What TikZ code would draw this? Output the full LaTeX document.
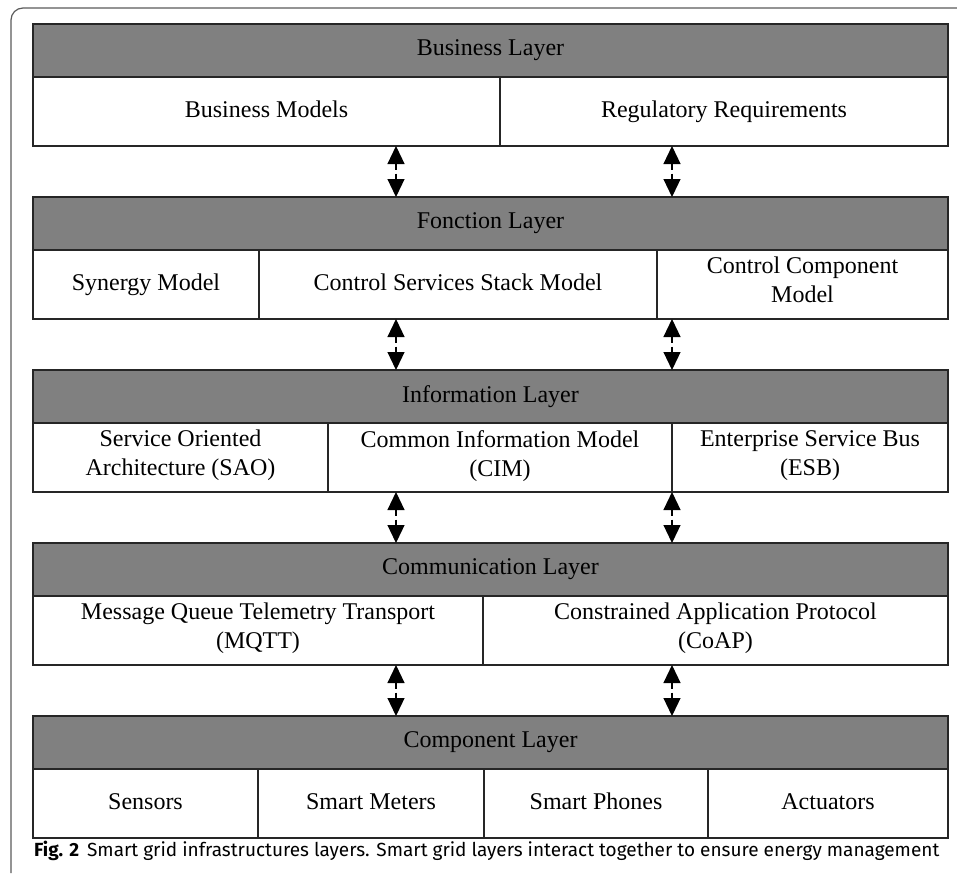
\documentclass[tikz,border=0pt]{standalone}
\usepackage{fontspec}
\setmainfont{Liberation Serif}
\newfontfamily\capfont{Fira Sans}
\usepackage{tikz}
\usetikzlibrary{arrows.meta,positioning}
\definecolor{hdrgray}{RGB}{128,128,128}
\definecolor{framegray}{RGB}{90,90,90}
\tikzset{
  every node/.append style={font=\fontsize{24}{29}\selectfont},
}

\begin{document}
\begin{tikzpicture}[
  x=1pt, y=-1pt,
  head/.style={draw=black!85, fill=hdrgray, line width=1.2pt, minimum width=915pt, minimum height=53pt, inner sep=0pt, outer sep=0pt, anchor=north west},
  cell/.style={draw=black!85, fill=white, line width=1.2pt, minimum height=69pt, inner sep=0pt, outer sep=0pt, align=center, anchor=north west,
    execute at begin node={\strut}, execute at end node={\strut}},
  link/.style={{Triangle[length=18pt,width=17pt]}-{Triangle[length=18pt,width=17pt]}, line width=1.2pt, dash pattern=on 6pt off 4pt}
]
\useasboundingbox (0,0) rectangle (957,873);

% Outer frame
\draw[framegray, line width=1.2pt, rounded corners=12pt] (11,873) -- (11,8) -- (957,8);

% Layer 1: Business
\node[head] (bizh) at (33,24) {Business Layer};
\node[cell, minimum width=467pt] (bizm) at (bizh.south west) {Business Models};
\node[cell, minimum width=448pt] (bizr) at (bizm.north east) {Regulatory Requirements};

% Layer 2: Fonction
\node[head, below=51pt of bizm.south west, anchor=north west] (fnh) {Fonction Layer};
\node[cell, minimum width=226pt] (fnsyn) at (fnh.south west) {Synergy Model};
\node[cell, minimum width=398pt] (fnstack) at (fnsyn.north east) {Control Services Stack Model};
\node[cell, minimum width=291pt] (fncomp) at (fnstack.north east) {Control Component\\Model};

% Layer 3: Information
\node[head, below=51pt of fnsyn.south west, anchor=north west] (infh) {Information Layer};
\node[cell, minimum width=295pt] (infsoa) at (infh.south west) {Service Oriented\\Architecture (SAO)};
\node[cell, minimum width=344pt] (infcim) at (infsoa.north east) {Common Information Model\\(CIM)};
\node[cell, minimum width=276pt] (infesb) at (infcim.north east) {Enterprise Service Bus\\(ESB)};

% Layer 4: Communication
\node[head, below=51pt of infsoa.south west, anchor=north west] (comh) {Communication Layer};
\node[cell, minimum width=450pt] (commqtt) at (comh.south west) {Message Queue Telemetry Transport\\(MQTT)};
\node[cell, minimum width=465pt] (comcoap) at (commqtt.north east) {Constrained Application Protocol\\(CoAP)};

% Layer 5: Component
\node[head, below=51pt of commqtt.south west, anchor=north west] (cph) {Component Layer};
\node[cell, minimum width=225pt] (cpsens) at (cph.south west) {Sensors};
\node[cell, minimum width=226pt] (cpmeter) at (cpsens.north east) {Smart Meters};
\node[cell, minimum width=224pt] (cpphone) at (cpmeter.north east) {Smart Phones};
\node[cell, minimum width=240pt] (cpact) at (cpphone.north east) {Actuators};

% Links between layers
\coordinate (lx) at (396,0);
\coordinate (rx) at (672,0);
\foreach \up/\down in {bizm/fnh, fnsyn/infh, infsoa/comh, commqtt/cph}{
  \draw[link] (lx |- \up.south) -- (lx |- \down.north);
  \draw[link] (rx |- \up.south) -- (rx |- \down.north);
}

% Caption
\node[font=\capfont\fontsize{19}{23}\selectfont, anchor=west, inner sep=0pt] (cap) at (34,851)
  {\textbf{Fig. 2}\hspace{8pt}Smart grid infrastructures layers. Smart grid layers interact together to ensure energy management};

\end{tikzpicture}
\end{document}
